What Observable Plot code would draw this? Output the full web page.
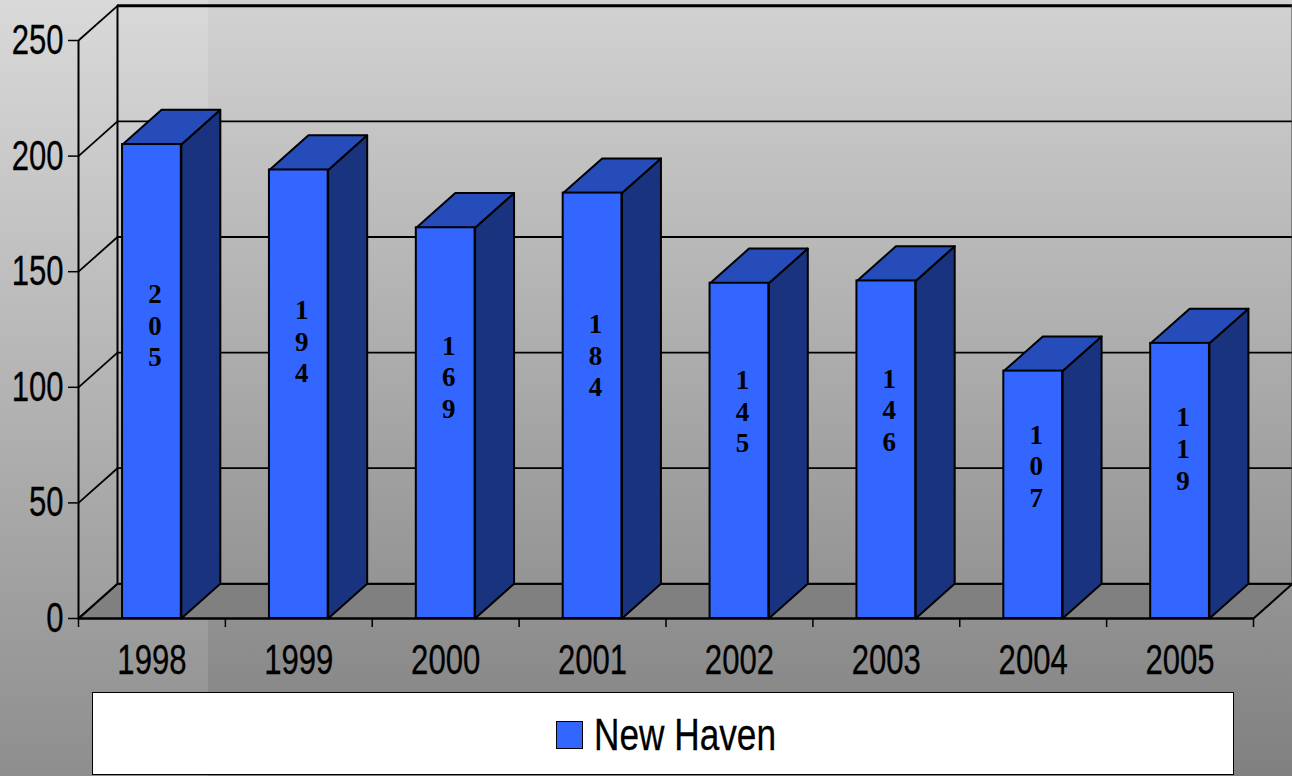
<!DOCTYPE html>
<html>
<head>
<meta charset="utf-8">
<script src="https://cdn.jsdelivr.net/npm/d3@7"></script>
<script src="https://cdn.jsdelivr.net/npm/@observablehq/plot@0.6"></script>
<style>
  html, body { margin: 0; padding: 0; }
  body { width: 1292px; height: 776px; overflow: hidden; position: relative;
         background: linear-gradient(180deg, #d2d2d2 0%, #808080 100%); }
  #strip { position: absolute; left: 0; top: 0; width: 208px; height: 776px;
           background: linear-gradient(180deg, #d9d9d9 0%, #8e8e8e 100%); }
  #chart { position: absolute; left: 0; top: 0; width: 1292px; height: 692px; }
  #chart svg { display: block; overflow: hidden; }
  #legend { position: absolute; left: 92px; top: 692px; width: 1140px; height: 81px;
            background: #fff; border: 1.5px solid #000; }
  #legend i { position: absolute; left: 463px; top: 28px; width: 25px; height: 26px;
              background: #3366ff; border: 1.5px solid #000; }
  #legend span { position: absolute; left: 501px; top: 17px; white-space: nowrap; line-height: 50px;
                 font-family: "Liberation Sans", sans-serif; font-size: 44px; color: #000;
                 -webkit-text-stroke: 0.3px #000; transform-origin: 0 50%; }
</style>
</head>
<body>
<div id="strip"></div>
<div id="chart"></div>
<div id="legend"><i></i><span>New Haven</span></div>
<script>
const years = ["1998", "1999", "2000", "2001", "2002", "2003", "2004", "2005"];
const newHaven = [205, 194, 169, 184, 145, 146, 107, 119];
const yTicks = [0, 50, 100, 150, 200, 250];
const slots = [0, 1, 2, 3, 4, 5, 6, 7, 8];

const depthX = 0.2655, depthY = 15, barW = 0.40;
const font = '"Liberation Sans", sans-serif';
const bars = years.map((year, i) => ({
  year, v: newHaven[i],
  x1: i + 0.5 - barW / 2, x2: i + 0.5 + barW / 2
}));
const face = (id, pts) => pts.map(([x, y]) => ({ id, x, y }));
const topFaces = bars.flatMap(b => face(b.year, [
  [b.x1, b.v], [b.x2, b.v], [b.x2 + depthX, b.v + depthY], [b.x1 + depthX, b.v + depthY], [b.x1, b.v]
]));
const sideFaces = bars.flatMap(b => face(b.year, [
  [b.x2, 0], [b.x2, b.v], [b.x2 + depthX, b.v + depthY], [b.x2 + depthX, depthY], [b.x2, 0]
]));
const floor = face("floor", [
  [0, 0], [8, 0], [8 + depthX, depthY], [depthX, depthY], [0, 0]
]);

const plot = Plot.plot({
  width: 1292,
  height: 692,
  marginLeft: 78, marginRight: 39, marginTop: 40, marginBottom: 74,
  style: { background: "transparent", overflow: "hidden" },
  x: { domain: [0, 8], axis: null },
  y: { domain: [0, 250], axis: null },
  marks: [
    Plot.line(floor, { x: "x", y: "y", fill: "#808080", stroke: "#000", strokeWidth: 2 }),
    Plot.ruleY(yTicks, { y: d => d + depthY, x1: depthX, x2: 8 + depthX, stroke: "#000",
      strokeWidth: d => d === 250 ? 3 : 1.8 }),
    Plot.link(yTicks, { x1: 0, y1: d => d, x2: depthX, y2: d => d + depthY, stroke: "#000", strokeWidth: 1.8 }),
    Plot.ruleX([0], { y1: 0, y2: 250, stroke: "#000", strokeWidth: 2 }),
    Plot.ruleX([depthX], { y1: depthY, y2: 250 + depthY, stroke: "#000", strokeWidth: 2 }),
    Plot.ruleX([8 + depthX], { y1: depthY, y2: 250 + depthY, stroke: "#444", strokeWidth: 2 }),
    Plot.line(sideFaces, { x: "x", y: "y", z: "id", fill: "#19337f", stroke: "#000", strokeWidth: 2 }),
    Plot.line(topFaces, { x: "x", y: "y", z: "id", fill: "#254cb8", stroke: "#000", strokeWidth: 2 }),
    Plot.rect(bars, { x1: "x1", x2: "x2", y1: 0, y2: "v", fill: "#3366ff", stroke: "#000", strokeWidth: 2 }),
    Plot.text(bars, {
      x: b => (b.x1 + b.x2) / 2, y: b => b.v * 0.62, dx: 3,
      text: b => String(b.v).split("").join("\n"),
      fontFamily: '"Liberation Serif", serif', fontWeight: "bold", fontSize: 27, lineHeight: 1.17,
      lineAnchor: "middle", fill: "#000"
    }),
    Plot.axisY({ ticks: yTicks, tickSize: 10, tickPadding: 5, fontSize: 42, fontFamily: font,
      label: null, stroke: "#000", strokeWidth: 1.5, fill: "#000" }),
    Plot.axisX({ ticks: slots, tickSize: 9, tickFormat: () => "", label: null, stroke: "#000", strokeWidth: 1.5 }),
    Plot.axisX({ ticks: years.map((_, i) => i + 0.5), tickSize: 0, tickPadding: 26, tickFormat: d => years[d - 0.5],
      fontSize: 42, fontFamily: font, label: null, fill: "#000" }),
    Plot.ruleY([0], { x1: 0, x2: 8, stroke: "#000", strokeWidth: 2.2 })
  ]
});
document.getElementById("chart").appendChild(plot);

// The reference uses a condensed face that is not installed: condense real text.
plot.querySelectorAll('g[aria-label="y-axis tick label"] text, g[aria-label="x-axis tick label"] text').forEach(t => {
  const len = t.getComputedTextLength();
  if (len > 0) {
    t.setAttribute("textLength", len * 0.74);
    t.setAttribute("lengthAdjust", "spacingAndGlyphs");
    t.setAttribute("stroke", "#000");
    t.setAttribute("stroke-width", "0.3");
  }
});
const legendText = document.querySelector("#legend span");
legendText.style.transform = `scaleX(${182 / legendText.getBoundingClientRect().width})`;
</script>
</body>
</html>
